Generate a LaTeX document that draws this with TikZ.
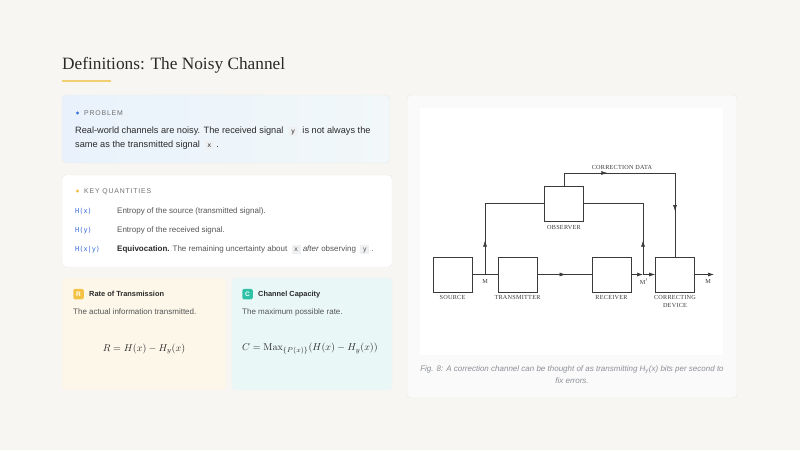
\documentclass[tikz,border=0pt]{standalone}
\usepackage[no-math]{fontspec}
\setmainfont{Liberation Sans}
\setmonofont{DejaVu Sans Mono}
\newfontfamily\titlefont{Liberation Serif}
\newfontfamily\diagfont[LetterSpace=4]{Liberation Serif}
\newfontfamily\capsfont[LetterSpace=12]{Liberation Sans}
\usetikzlibrary{arrows.meta, positioning, decorations.markings}

\definecolor{pagebg}{HTML}{F7F6F3}
\definecolor{accent}{HTML}{F1CF72}
\definecolor{textdark}{HTML}{2A2A2A}
\definecolor{textgray}{HTML}{555555}
\definecolor{labelgray}{HTML}{6F6F6F}
\definecolor{cardline}{HTML}{E9E9E9}
\definecolor{probleft}{HTML}{E9F2FC}
\definecolor{probright}{HTML}{F2F8F9}
\definecolor{bulletblue}{HTML}{3D74D9}
\definecolor{bulletgold}{HTML}{F2BE3C}
\definecolor{codeblue}{HTML}{3B6FD6}
\definecolor{codebg}{HTML}{EFF0F2}
\definecolor{ratefill}{HTML}{FDF7EA}
\definecolor{capfill}{HTML}{E9F8F7}
\definecolor{badgeR}{HTML}{F4C245}
\definecolor{badgeC}{HTML}{2FC1A6}
\definecolor{panelfill}{HTML}{FAFAFA}
\definecolor{linecol}{HTML}{3A3A3A}
\definecolor{capgray}{HTML}{8C9097}

\newcommand{\inlinecode}[1]{{\setlength{\fboxsep}{1.3pt}\colorbox{codebg}{\ttfamily\fontsize{6.6}{7}\selectfont\vphantom{Hy}\,#1\,}}}

\begin{document}
\begin{tikzpicture}[
        x=1pt, y=-1pt,
        card/.style={rounded corners=4pt, draw=cardline, line width=0.4pt},
        tag/.style={font=\capsfont\fontsize{6.9}{8}\selectfont, text=labelgray,
                    anchor=base west, inner sep=0},
        body/.style={font=\fontsize{9.2}{11}\selectfont, text=textdark,
                     anchor=base west, inner sep=0},
        small/.style={font=\fontsize{8}{9}\selectfont, text=textgray,
                      anchor=base west, inner sep=0},
        qcode/.style={font=\ttfamily\fontsize{6.9}{8}\selectfont, text=codeblue,
                      anchor=base west, inner sep=0},
        badge/.style={rounded corners=1.5pt, minimum size=10.5pt, inner sep=0,
                      text=white, font=\bfseries\fontsize{6.5}{6.5}\selectfont},
        boxnode/.style={draw=linecol, line width=0.6pt, minimum width=39pt,
                        minimum height=35pt, inner sep=0},
        boxlabel/.style={font=\diagfont\fontsize{6.2}{8}\selectfont, text=linecol,
                         align=center, inner sep=0, anchor=north},
        wire/.style={draw=linecol, line width=0.6pt},
        midarrow/.style={postaction={decorate}, decoration={markings,
                         mark=at position #1 with {\arrow{Latex[length=6pt,width=4pt]}}}},
        endarrow/.style={-{Latex[length=6pt,width=4pt]}}
    ]
        % page
        \fill[pagebg] (0,0) rectangle (800,450);
        \useasboundingbox (0,0) rectangle (800,450);

        % title
        \node[font=\titlefont\fontsize{17.3}{20}\selectfont, text=textdark, anchor=base west, inner sep=0]
            (title) at (62,69) {Definitions: The Noisy Channel};
        \draw[accent, line width=2pt] (62,81) -- (111,81);

        % problem card
        \shade[card, left color=probleft, right color=probright] (62,95) rectangle (390,163);
        \fill[bulletblue] (77.5,113) circle (1.6);
        \node[tag] (probtag) at (84,115.5) {PROBLEM};
        \node[body] (prob1) at (75,133.5) {Real-world channels are noisy. The received signal \ \inlinecode{y}\ \ is not always the};
        \node[body] (prob2) at (75,147.5) {same as the transmitted signal \ \inlinecode{x}\ .};

        % key quantities card
        \filldraw[card, fill=white] (62,175) rectangle (392,267);
        \fill[bulletgold] (77.5,191) circle (1.6);
        \node[tag] (keytag) at (84,193.5) {KEY QUANTITIES};
        \node[qcode] (hx) at (75,213.5) {H(x)};
        \node[small] (hxtext) at (117,213.5) {Entropy of the source (transmitted signal).};
        \node[qcode] (hy) at (75,232.5) {H(y)};
        \node[small] (hytext) at (117,232.5) {Entropy of the received signal.};
        \node[qcode] (hxy) at (75,251) {H(x|y)};
        \node[small] (hxytext) at (117,251) {\textcolor{textdark}{\textbf{Equivocation.}} The remaining uncertainty about \ \inlinecode{x}\ \textit{after} observing \ \inlinecode{y}\ .};

        % rate card
        \filldraw[card, fill=ratefill, draw=ratefill!80!cardline] (62,278) rectangle (226,390);
        \node[badge, fill=badgeR] (rbadge) at (78.5,294) {R};
        \node[small, text=textdark, font=\bfseries\fontsize{7.4}{8}\selectfont] (ratetitle) at (89,296.5) {Rate of Transmission};
        \node[small] (ratetext) at (73,314) {The actual information transmitted.};
        \node[font=\fontsize{10}{12}\selectfont, text=textdark] (rateeq) at (144,349) {$R = H(x) - H_y(x)$};

        % capacity card
        \filldraw[card, fill=capfill, draw=capfill!80!cardline] (232,278) rectangle (392,390);
        \node[badge, fill=badgeC] (cbadge) at (247.5,294) {C};
        \node[small, text=textdark, font=\bfseries\fontsize{7.4}{8}\selectfont] (captitle) at (258,296.5) {Channel Capacity};
        \node[small] (captext) at (242,314) {The maximum possible rate.};
        \node[font=\fontsize{10}{12}\selectfont, text=textdark] (capeq) at (310,349) {$C = \mathrm{Max}_{\{P(x)\}}(H(x) - H_y(x))$};

        % figure panel
        \filldraw[card, fill=panelfill] (407,95) rectangle (737,398);
        \fill[white] (420,108) rectangle (723,355);
        \node[font=\itshape\fontsize{8}{9}\selectfont, text=capgray, inner sep=0] (cap1) at (572,370)
            {Fig. 8: A correction channel can be thought of as transmitting H\textsubscript{y}(x) bits per second to};
        \node[font=\itshape\fontsize{8}{9}\selectfont, text=capgray, inner sep=0] (cap2) at (572,381) {fix errors.};

        % correction system
        \node[boxnode] (src) at (452.5,274.5) {};
        \node[boxnode] (trn) at (517.5,274.5) {};
        \node[boxnode] (rcv) at (611.5,274.5) {};
        \node[boxnode] (cor) at (675,274.5) {};
        \node[boxnode] (obs) at (564,203.5) {};
        \node[boxlabel] (srclabel) at (452.5,295) {SOURCE};
        \node[boxlabel] (trnlabel) at (517.5,295) {TRANSMITTER};
        \node[boxlabel] (rcvlabel) at (611.5,295) {RECEIVER};
        \node[boxlabel] (corlabel) at (675,295) {CORRECTING\\DEVICE};
        \node[boxlabel] (obslabel) at (564,225) {OBSERVER};

        \coordinate (jm) at (485,274.5);
        \coordinate (jmp) at (643,274.5);
        \coordinate (top) at (675,173);
        \coordinate (out) at (714,274.5);

        \draw[wire] (src) -- (trn);
        \draw[wire, midarrow=0.26] (jm) |- (obs.west);
        \draw[wire, midarrow=0.52] (trn) -- (rcv);
        \draw[wire, endarrow] (rcv) -- (jmp);
        \draw[wire, endarrow] (jmp) -- (cor);
        \draw[wire, midarrow=0.26] (jmp) |- (obs.east);
        \draw[wire, postaction={decorate}, decoration={markings,
              mark=at position 0.27 with {\arrow{Latex[length=6pt,width=4pt]}},
              mark=at position 0.78 with {\arrow{Latex[length=6pt,width=4pt]}}}]
            (obs.north) |- (top) -- (cor.north);
        \draw[wire, endarrow] (cor) -- (out);

        \node[boxlabel] (mlabel) at (485,279) {M};
        \node[boxlabel] (mplabel) at (644,279) {M$'$};
        \node[boxlabel] (outlabel) at (708,279) {M};
        \node[boxlabel, anchor=base] (corrdata) at (622,169) {CORRECTION DATA};
    \end{tikzpicture}
\end{document}
